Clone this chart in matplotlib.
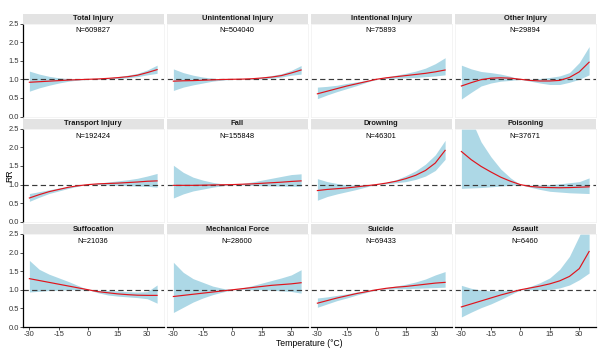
import matplotlib
matplotlib.use("Agg")
import matplotlib.pyplot as plt
import numpy as np

plt.rcParams["font.family"] = ["Liberation Sans", "DejaVu Sans"]
plt.rcParams["axes.unicode_minus"] = False

temps = [-30, -25, -20, -15, -10, -5, 0, 5, 10, 15, 20, 25, 30, 35]

panels = ["Total Injury", "Unintentional Injury", "Intentional Injury", "Other Injury",
          "Transport Injury", "Fall", "Drowning", "Poisoning",
          "Suffocation", "Mechanical Force", "Suicide", "Assault"]
counts = [609827, 504040, 75893, 29894,
          192424, 155848, 46301, 37671,
          21036, 28600, 69433, 6460]

rr = {
    "Total Injury":        [0.92, 0.935, 0.95, 0.965, 0.98, 0.99, 1.0, 1.01, 1.025, 1.045, 1.07, 1.11, 1.18, 1.26],
    "Unintentional Injury": [0.95, 0.96, 0.965, 0.975, 0.985, 0.995, 1.0, 1.005, 1.015, 1.035, 1.06, 1.10, 1.17, 1.25],
    "Intentional Injury":  [0.61, 0.68, 0.75, 0.82, 0.88, 0.94, 1.0, 1.04, 1.07, 1.10, 1.13, 1.16, 1.20, 1.25],
    "Other Injury":        [0.82, 0.91, 0.99, 1.03, 1.04, 1.03, 1.0, 0.97, 0.955, 0.955, 0.97, 1.05, 1.20, 1.46],
    "Transport Injury":    [0.64, 0.73, 0.81, 0.87, 0.93, 0.97, 1.0, 1.02, 1.03, 1.04, 1.055, 1.07, 1.09, 1.10],
    "Fall":                [0.98, 0.98, 0.98, 0.985, 0.99, 0.995, 1.0, 1.01, 1.02, 1.035, 1.05, 1.065, 1.085, 1.10],
    "Drowning":            [0.84, 0.87, 0.89, 0.91, 0.94, 0.97, 1.0, 1.04, 1.09, 1.16, 1.25, 1.38, 1.58, 1.92],
    "Poisoning":           [1.89, 1.67, 1.49, 1.34, 1.20, 1.09, 1.0, 0.95, 0.93, 0.92, 0.915, 0.92, 0.93, 0.94],
    "Suffocation":         [1.30, 1.25, 1.20, 1.15, 1.10, 1.05, 1.0, 0.95, 0.92, 0.89, 0.87, 0.855, 0.85, 0.85],
    "Mechanical Force":    [0.82, 0.85, 0.88, 0.91, 0.94, 0.97, 1.0, 1.03, 1.06, 1.09, 1.12, 1.14, 1.16, 1.19],
    "Suicide":             [0.64, 0.71, 0.78, 0.84, 0.90, 0.95, 1.0, 1.04, 1.07, 1.09, 1.12, 1.15, 1.18, 1.20],
    "Assault":             [0.54, 0.62, 0.70, 0.78, 0.86, 0.93, 1.0, 1.05, 1.10, 1.16, 1.24, 1.36, 1.57, 2.03],
}
rr_low = {
    "Total Injury":        [0.68, 0.77, 0.84, 0.90, 0.95, 0.98, 1.0, 1.0, 1.01, 1.02, 1.04, 1.07, 1.12, 1.16],
    "Unintentional Injury": [0.70, 0.79, 0.85, 0.90, 0.95, 0.98, 1.0, 1.0, 1.0, 1.01, 1.03, 1.06, 1.11, 1.14],
    "Intentional Injury":  [0.48, 0.58, 0.67, 0.75, 0.83, 0.92, 1.0, 1.02, 1.03, 1.04, 1.05, 1.07, 1.09, 1.12],
    "Other Injury":        [0.47, 0.65, 0.82, 0.90, 0.95, 0.97, 1.0, 0.95, 0.90, 0.86, 0.86, 0.92, 1.0, 1.12],
    "Transport Injury":    [0.55, 0.66, 0.76, 0.83, 0.90, 0.96, 1.0, 1.0, 0.99, 0.98, 0.97, 0.96, 0.955, 0.93],
    "Fall":                [0.64, 0.75, 0.83, 0.88, 0.93, 0.97, 1.0, 0.99, 0.98, 0.97, 0.965, 0.96, 0.955, 0.955],
    "Drowning":            [0.58, 0.68, 0.75, 0.81, 0.87, 0.94, 1.0, 1.02, 1.05, 1.08, 1.14, 1.23, 1.38, 1.68],
    "Poisoning":           [0.90, 0.91, 0.92, 0.94, 0.96, 0.98, 1.0, 0.93, 0.87, 0.82, 0.80, 0.78, 0.77, 0.76],
    "Suffocation":         [0.94, 0.96, 0.98, 0.99, 1.0, 1.0, 1.0, 0.92, 0.86, 0.83, 0.81, 0.79, 0.76, 0.64],
    "Mechanical Force":    [0.39, 0.53, 0.67, 0.78, 0.87, 0.94, 1.0, 1.01, 1.0, 1.0, 0.99, 0.97, 0.955, 0.91],
    "Suicide":             [0.53, 0.62, 0.71, 0.78, 0.86, 0.93, 1.0, 1.02, 1.03, 1.03, 1.04, 1.05, 1.06, 1.07],
    "Assault":             [0.27, 0.40, 0.52, 0.62, 0.74, 0.87, 1.0, 1.0, 1.0, 1.01, 1.05, 1.13, 1.27, 1.45],
}
rr_high = {
    "Total Injury":        [1.22, 1.14, 1.08, 1.04, 1.02, 1.01, 1.0, 1.02, 1.04, 1.07, 1.11, 1.16, 1.25, 1.38],
    "Unintentional Injury": [1.28, 1.18, 1.11, 1.06, 1.03, 1.01, 1.0, 1.01, 1.03, 1.06, 1.10, 1.15, 1.24, 1.37],
    "Intentional Injury":  [0.79, 0.81, 0.84, 0.89, 0.93, 0.97, 1.0, 1.06, 1.11, 1.16, 1.22, 1.30, 1.42, 1.58],
    "Other Injury":        [1.38, 1.28, 1.21, 1.18, 1.14, 1.08, 1.0, 1.0, 1.02, 1.05, 1.09, 1.18, 1.45, 1.88],
    "Transport Injury":    [0.76, 0.81, 0.86, 0.91, 0.95, 0.98, 1.0, 1.04, 1.07, 1.10, 1.13, 1.17, 1.23, 1.30],
    "Fall":                [1.52, 1.33, 1.20, 1.12, 1.06, 1.02, 1.0, 1.03, 1.07, 1.12, 1.17, 1.22, 1.27, 1.29],
    "Drowning":            [1.16, 1.08, 1.03, 0.99, 0.99, 0.995, 1.0, 1.06, 1.13, 1.24, 1.37, 1.55, 1.80, 2.19],
    "Poisoning":           [3.50, 2.75, 2.15, 1.75, 1.42, 1.18, 1.0, 0.99, 0.99, 1.0, 1.02, 1.05, 1.08, 1.18],
    "Suffocation":         [1.79, 1.55, 1.42, 1.32, 1.22, 1.11, 1.0, 0.99, 0.98, 0.97, 0.95, 0.94, 0.95, 1.13],
    "Mechanical Force":    [1.74, 1.47, 1.30, 1.20, 1.10, 1.04, 1.0, 1.05, 1.11, 1.18, 1.25, 1.32, 1.40, 1.54],
    "Suicide":             [0.78, 0.81, 0.85, 0.89, 0.94, 0.97, 1.0, 1.06, 1.10, 1.15, 1.21, 1.29, 1.40, 1.49],
    "Assault":             [1.12, 1.04, 0.99, 0.97, 0.98, 0.99, 1.0, 1.09, 1.19, 1.32, 1.55, 1.90, 2.45, 3.10],
}

x_ticks = [-30, -15, 0, 15, 30]
y_ticks = [0.0, 0.5, 1.0, 1.5, 2.0, 2.5]

W, H = 598, 349
fig = plt.figure(figsize=(W / 100, H / 100), dpi=100)
fig.patch.set_facecolor("white")

col_left = [23, 167, 311, 455]
panel_w = 140.5
row_top = [23.5, 128.8, 234.0]
panel_h = 93.0
strip_h = 9.8

def frac_box(x0, y0, w, h):
    return [x0 / W, 1 - (y0 + h) / H, w / W, h / H]

fs = 5.4
for i, name in enumerate(panels):
    r, c = divmod(i, 4)
    ax = fig.add_axes(frac_box(col_left[c], row_top[r], panel_w, panel_h))
    ax.fill_between(temps, rr_low[name], rr_high[name], color="#add8e6", lw=0, zorder=1)
    ax.plot(temps, rr[name], color="#e0141c", lw=0.85, zorder=3)
    ax.axhline(1.0, color="#3a3a3a", lw=0.85, dashes=(4.5, 2.8), zorder=2)
    ax.text(2.5, 2.3, f"N={counts[i]}", ha="center", va="center", fontsize=fs, color="black")
    ax.set_xlim(-33.25, 38.25)
    ax.set_ylim(0, 2.5)
    ax.set_xticks(x_ticks)
    ax.set_yticks(y_ticks)
    for s in ax.spines.values():
        s.set_color("#f0f0f0")
        s.set_linewidth(0.5)
    ax.tick_params(length=2, width=0.6, pad=0.8, labelsize=fs, colors="#333333")
    if c == 0:
        ax.spines["left"].set_color("black")
        ax.spines["left"].set_linewidth(0.9)
        ax.set_yticklabels([f"{v:.1f}" for v in y_ticks])
    else:
        ax.tick_params(axis="y", left=False, labelleft=False)
    if r == 2:
        ax.spines["bottom"].set_color("black")
        ax.spines["bottom"].set_linewidth(0.9)
        ax.set_xticklabels([str(v) for v in x_ticks])
    else:
        ax.tick_params(axis="x", bottom=False, labelbottom=False)

    sax = fig.add_axes(frac_box(col_left[c], row_top[r] - strip_h, panel_w, strip_h))
    sax.set_facecolor("#e3e3e3")
    sax.set_xticks([])
    sax.set_yticks([])
    for s in sax.spines.values():
        s.set_visible(False)
    sax.text(0.5, 0.5, name, ha="center", va="center", fontsize=fs,
             fontweight="bold", color="#1a1a1a", transform=sax.transAxes)

fig.text(10 / W, 1 - 176 / H, "RR", rotation=90, ha="center", va="center", fontsize=6.2)
fig.text((23 + 595.5) / 2 / W, 1 - 343 / H, "Temperature (°C)", ha="center", va="center", fontsize=6.2)

fig.savefig("out.png", dpi=100)
